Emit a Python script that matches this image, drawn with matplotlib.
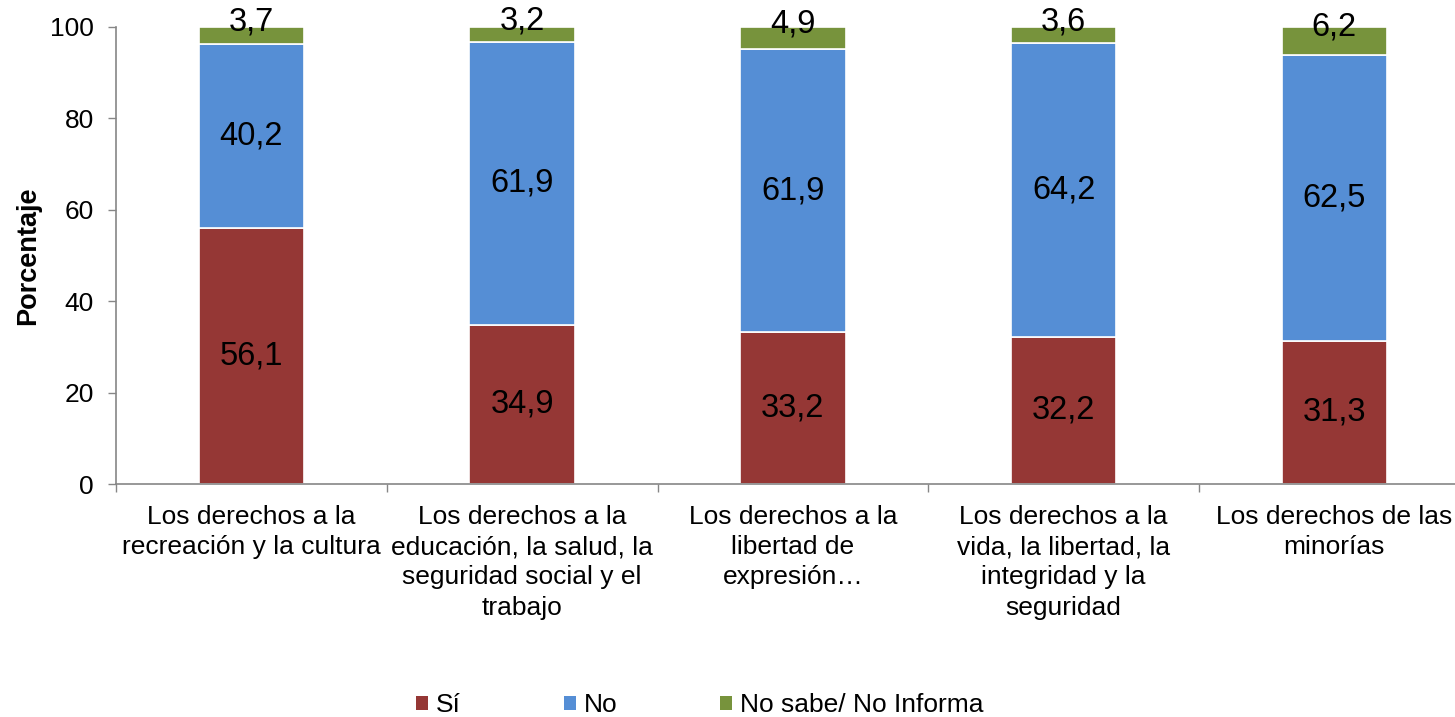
import matplotlib.pyplot as plt
import numpy as np
from matplotlib.patches import Patch

plt.rcParams['font.family'] = ['Liberation Sans', 'DejaVu Sans']

categorias = ['Los derechos a la\nrecreación y la cultura',
              'Los derechos a la\neducación, la salud, la\nseguridad social y el\ntrabajo',
              'Los derechos a la\nlibertad de\nexpresión…',
              'Los derechos a la\nvida, la libertad, la\nintegridad y la\nseguridad',
              'Los derechos de las\nminorías']
si = [56.1, 34.9, 33.2, 32.2, 31.3]
no = [40.2, 61.9, 61.9, 64.2, 62.5]
ns_ni = [3.7, 3.2, 4.9, 3.6, 6.2]
series = ['Sí', 'No', 'No sabe/ No Informa']
colores = ['#953735', '#558ED5', '#77933C']

fig = plt.figure(figsize=(14.55, 7.17), dpi=100)
ax = fig.add_axes([116 / 1455, 1 - 484 / 717, 1 - 116 / 1455, 457 / 717])

x = np.arange(len(categorias))
base = np.zeros(len(categorias))
for k, vals in enumerate([si, no, ns_ni]):
    vals = np.array(vals)
    ax.bar(x, vals, 0.39, bottom=base, color=colores[k], edgecolor='white', linewidth=1.2, zorder=2)
    for i, v in enumerate(vals):
        y = base[i] + v / 2
        if k == 2:
            # etiquetas del segmento verde van un poco por encima
            y = base[i] + v / 2 + 3.0
        ax.text(x[i], y, f'{v:.1f}'.replace('.', ','), ha='center', va='center',
                fontsize=23.5, color='black', clip_on=False, zorder=3)
    base = base + vals

ax.set_yticks([0, 20, 40, 60, 80, 100])
ax.tick_params(axis='y', labelsize=19, length=6, width=1, color='#868686', pad=10)
ax.set_xticks(np.arange(-0.5, len(categorias) - 1, 1.0))
ax.set_xticklabels([])
ax.tick_params(axis='x', which='major', length=6, width=1, color='#868686')
ax.set_xticks(x, minor=True)
ax.set_xticklabels(categorias, minor=True, fontsize=19, linespacing=1.33)
ax.tick_params(axis='x', which='minor', length=0, pad=15)
ax.set_ylim(0, 100)
ax.set_xlim(-0.5, (1455 - 116) / 270.75 - 0.5)

for s in ['top', 'right']:
    ax.spines[s].set_visible(False)
for s in ['left', 'bottom']:
    ax.spines[s].set_color('#868686')
    ax.spines[s].set_linewidth(1.2)

ax.set_ylabel('Porcentaje', fontsize=19.5, fontweight='bold', labelpad=6.5)

handles = [Patch(facecolor=c, edgecolor='none') for c in colores]
fig.legend(handles, series, loc='center', bbox_to_anchor=(700 / 1455, 1 - 705 / 717),
           ncol=3, frameon=False, fontsize=19, handlelength=0.45, handleheight=0.45,
           handletextpad=0.3, columnspacing=3.9)

fig.savefig('out.png', dpi=100)
